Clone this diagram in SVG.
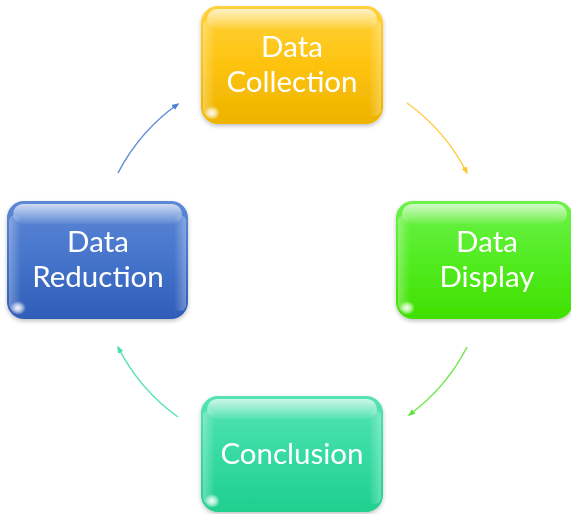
<svg xmlns="http://www.w3.org/2000/svg" width="571" height="514" viewBox="0 0 571 514">
  <defs>
    <linearGradient id="gYellow" x1="0" y1="0" x2="0" y2="1">
      <stop offset="0" stop-color="#FFD23C"/>
      <stop offset="0.5" stop-color="#FDC30E"/>
      <stop offset="1" stop-color="#EDB300"/>
    </linearGradient>
    <linearGradient id="gBlue" x1="0" y1="0" x2="0" y2="1">
      <stop offset="0" stop-color="#5C88D6"/>
      <stop offset="0.5" stop-color="#4574CB"/>
      <stop offset="1" stop-color="#2F5DB8"/>
    </linearGradient>
    <linearGradient id="gGreen" x1="0" y1="0" x2="0" y2="1">
      <stop offset="0" stop-color="#6DF24A"/>
      <stop offset="0.5" stop-color="#52EC22"/>
      <stop offset="1" stop-color="#40E000"/>
    </linearGradient>
    <linearGradient id="gTeal" x1="0" y1="0" x2="0" y2="1">
      <stop offset="0" stop-color="#55E3B4"/>
      <stop offset="0.5" stop-color="#36DBA2"/>
      <stop offset="1" stop-color="#1FCF8E"/>
    </linearGradient>
    <linearGradient id="gloss" x1="0" y1="0" x2="0" y2="1">
      <stop offset="0" stop-color="#fff" stop-opacity="0.7"/>
      <stop offset="1" stop-color="#fff" stop-opacity="0.05"/>
    </linearGradient>
    <linearGradient id="edgeL" x1="0" y1="0" x2="1" y2="0">
      <stop offset="0" stop-color="#fff" stop-opacity="0.3"/>
      <stop offset="1" stop-color="#fff" stop-opacity="0"/>
    </linearGradient>
    <linearGradient id="edgeR" x1="1" y1="0" x2="0" y2="0">
      <stop offset="0" stop-color="#fff" stop-opacity="0.3"/>
      <stop offset="1" stop-color="#fff" stop-opacity="0"/>
    </linearGradient>
    <radialGradient id="spot" cx="0.5" cy="0.5" r="0.5">
      <stop offset="0" stop-color="#fff" stop-opacity="0.95"/>
      <stop offset="0.5" stop-color="#fff" stop-opacity="0.6"/>
      <stop offset="1" stop-color="#fff" stop-opacity="0"/>
    </radialGradient>
    <filter id="shadow" x="-10%" y="-10%" width="120%" height="125%">
      <feGaussianBlur in="SourceAlpha" stdDeviation="2"/>
      <feOffset dx="0" dy="2" result="b"/>
      <feComponentTransfer><feFuncA type="linear" slope="0.25"/></feComponentTransfer>
      <feMerge><feMergeNode/><feMergeNode in="SourceGraphic"/></feMerge>
    </filter>
    <marker id="aBlue" viewBox="0 0 10 10" refX="8" refY="5" markerWidth="5" markerHeight="5" orient="auto">
      <path d="M0,1 L10,5 L0,9 z" fill="#4F7FD2"/>
    </marker>
    <marker id="aYellow" viewBox="0 0 10 10" refX="8" refY="5" markerWidth="5" markerHeight="5" orient="auto">
      <path d="M0,1 L10,5 L0,9 z" fill="#FFC62E"/>
    </marker>
    <marker id="aGreen" viewBox="0 0 10 10" refX="8" refY="5" markerWidth="5" markerHeight="5" orient="auto">
      <path d="M0,1 L10,5 L0,9 z" fill="#5EE63A"/>
    </marker>
    <marker id="aTeal" viewBox="0 0 10 10" refX="8" refY="5" markerWidth="5" markerHeight="5" orient="auto">
      <path d="M0,1 L10,5 L0,9 z" fill="#45DFAE"/>
    </marker>
  </defs>
  <style>
    .box { filter: url(#shadow); }
    .label { font-family: Lato, "Open Sans", "Liberation Sans", sans-serif; font-size: 29.5px; fill: #fff; text-anchor: middle; }
    .conn { fill: none; stroke-width: 1.5; stroke-opacity: 0.9; }
  </style>

  <rect width="571" height="514" fill="#fff"/>

  <!-- connectors: arcs on a circle around the cycle centre -->
  <g id="connectors">
    <path class="conn" d="M118,173 A194,194 0 0 1 178,104" stroke="#4F7FD2" marker-end="url(#aBlue)"/>
    <path class="conn" d="M407,103 A194,194 0 0 1 467,173" stroke="#FFC62E" marker-end="url(#aYellow)"/>
    <path class="conn" d="M467,347 A194,194 0 0 1 409,415" stroke="#5EE63A" marker-end="url(#aGreen)"/>
    <path class="conn" d="M178,417 A194,194 0 0 1 118,347" stroke="#45DFAE" marker-end="url(#aTeal)"/>
  </g>

  <g id="data-collection" class="box">
    <rect x="201" y="6" width="182" height="118" rx="17" fill="url(#gYellow)"/>
    <rect x="207" y="9" width="170" height="20" rx="10" fill="url(#gloss)"/>
    <rect x="203" y="20" width="12" height="96" rx="6" fill="url(#edgeL)"/>
    <rect x="369" y="20" width="12" height="96" rx="6" fill="url(#edgeR)"/>
    <ellipse cx="212" cy="113" rx="8" ry="7" fill="url(#spot)"/>
    <text class="label" x="292" y="57">Data</text>
    <text class="label" x="292" y="92">Collection</text>
  </g>

  <g id="data-display" class="box">
    <rect x="396" y="201" width="177" height="118" rx="17" fill="url(#gGreen)"/>
    <rect x="402" y="204" width="165" height="20" rx="10" fill="url(#gloss)"/>
    <rect x="398" y="215" width="12" height="96" rx="6" fill="url(#edgeL)"/>
    <ellipse cx="407" cy="308" rx="8" ry="7" fill="url(#spot)"/>
    <text class="label" x="487" y="252">Data</text>
    <text class="label" x="487" y="287">Display</text>
  </g>

  <g id="conclusion" class="box">
    <rect x="201" y="396" width="182" height="116" rx="17" fill="url(#gTeal)"/>
    <rect x="207" y="399" width="170" height="20" rx="10" fill="url(#gloss)"/>
    <rect x="203" y="410" width="12" height="94" rx="6" fill="url(#edgeL)"/>
    <rect x="369" y="410" width="12" height="94" rx="6" fill="url(#edgeR)"/>
    <ellipse cx="212" cy="501" rx="8" ry="7" fill="url(#spot)"/>
    <text class="label" x="292" y="464">Conclusion</text>
  </g>

  <g id="data-reduction" class="box">
    <rect x="7" y="201" width="181" height="118" rx="17" fill="url(#gBlue)"/>
    <rect x="13" y="204" width="169" height="20" rx="10" fill="url(#gloss)"/>
    <rect x="9" y="215" width="12" height="96" rx="6" fill="url(#edgeL)"/>
    <rect x="174" y="215" width="12" height="96" rx="6" fill="url(#edgeR)"/>
    <ellipse cx="18" cy="308" rx="8" ry="7" fill="url(#spot)"/>
    <text class="label" x="98" y="252">Data</text>
    <text class="label" x="98" y="287">Reduction</text>
  </g>
</svg>
